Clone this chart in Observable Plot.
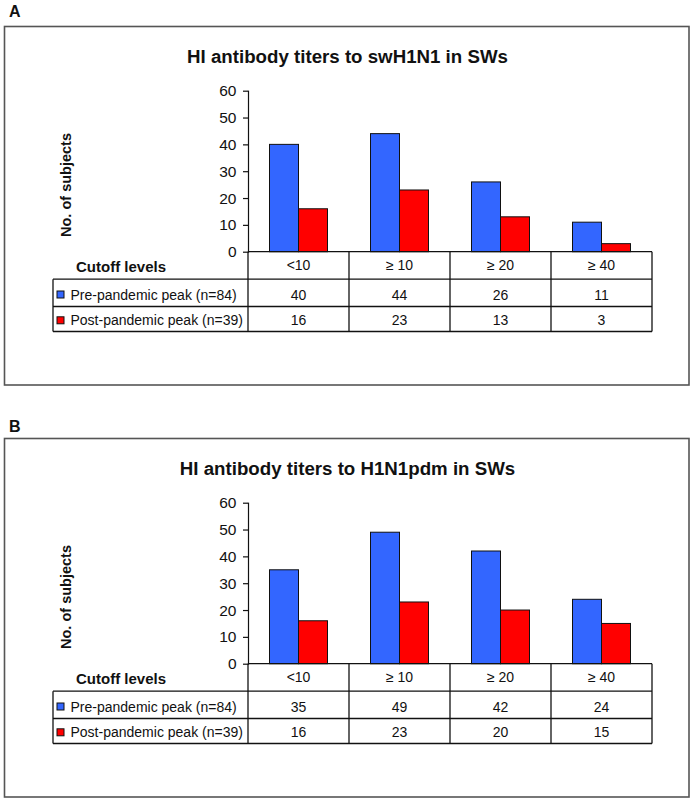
<!DOCTYPE html>
<html>
<head>
<meta charset="utf-8">
<script src="https://cdn.jsdelivr.net/npm/d3@7"></script>
<script src="https://cdn.jsdelivr.net/npm/@observablehq/plot@0.6"></script>
<style>
  html, body { margin: 0; padding: 0; background: #fff; }
  #root { position: relative; width: 695px; height: 803px; overflow: hidden; background: #fff; }
  .panel { position: absolute; left: 0; width: 695px; }
  .panel svg { display: block; }
</style>
</head>
<body>
<div id="root">
  <div class="panel" id="panelA" style="top:0px"></div>
  <div class="panel" id="panelB" style="top:412px"></div>
</div>
<script>
// ---- data ----
const categories = ["<10", "≥ 10", "≥ 20", "≥ 40"];
const seriesNames = ["Pre-pandemic peak (n=84)", "Post-pandemic peak (n=39)"];
const seriesColors = ["#3366ff", "#ff0000"];
const yTicks = [0, 10, 20, 30, 40, 50, 60];
const yLabel = "No. of subjects";
const tableHeader = "Cutoff levels";

const labelA = "A";
const titleA = "HI antibody titers to swH1N1 in SWs";
const preA = [40, 44, 26, 11];
const postA = [16, 23, 13, 3];

const labelB = "B";
const titleB = "HI antibody titers to H1N1pdm in SWs";
const preB = [35, 49, 42, 24];
const postB = [16, 23, 20, 15];

const FONT = "'Liberation Sans', Arial, Helvetica, sans-serif";

function drawPanel(host, label, title, pre, post, labelBaseline) {
  const W = 695, H = 400;
  const yTop = 90.7, yBottom = 251.7;
  const series = [pre, post];
  const rows = categories.flatMap((c, i) => series.map((s, k) => ({cut: c, series: k, value: s[i]})));

  const chart = Plot.plot({
    width: W,
    height: H,
    marginLeft: 248,
    marginRight: 42.5,
    marginTop: yTop,
    marginBottom: H - yBottom,
    style: {fontFamily: FONT, fontSize: "14px", color: "#111", background: "transparent", overflow: "visible"},
    x: {domain: categories, padding: 0, axis: null},
    y: {domain: [0, 60], axis: null},
    marks: [
      Plot.barY(rows.filter(d => d.series === 0), {
        x: "cut", y: "value", fill: seriesColors[0], stroke: "#111", strokeWidth: 1,
        insetLeft: 21.5, insetRight: 50.5
      }),
      Plot.barY(rows.filter(d => d.series === 1), {
        x: "cut", y: "value", fill: seriesColors[1], stroke: "#111", strokeWidth: 1,
        insetLeft: 50.5, insetRight: 21.5
      }),
      Plot.axisY({ticks: yTicks, tickSize: 5, tickPadding: 7, label: null, stroke: "#111",
        strokeWidth: 1.2, fill: "#111", fontSize: 15.5}),
      Plot.frame({anchor: "left", stroke: "#111", strokeWidth: 1.2})
    ]
  });

  const svg = d3.select(chart);
  const xs = chart.scale("x");
  const ys = chart.scale("y");
  const bw = xs.bandwidth;
  const y0 = ys.apply(0);
  const xStart = xs.apply(categories[0]);
  const xEnd = xs.apply(categories[categories.length - 1]) + bw;
  const tableLeft = 53;
  const r1 = y0 + 27.5, r2 = y0 + 54.8, r3 = y0 + 79.8;

  const g = svg.append("g").attr("font-family", FONT).attr("fill", "#111").attr("text-anchor", "start");

  // outer box
  g.append("rect").attr("x", 4.5).attr("y", 26.5).attr("width", 684.5).attr("height", 358.5)
    .attr("fill", "none").attr("stroke", "#555").attr("stroke-width", 1.6);

  // panel label
  g.append("text").attr("x", 9).attr("y", labelBaseline).attr("font-size", 16).attr("font-weight", "bold").text(label);

  // title
  g.append("text").attr("x", 347.5).attr("y", 63).attr("text-anchor", "middle")
    .attr("font-size", 18.7).attr("font-weight", "bold").text(title);

  // y label
  g.append("text").attr("transform", `translate(70.5,185) rotate(-90)`)
    .attr("text-anchor", "middle").attr("font-size", 14.5).attr("font-weight", "bold").text(yLabel);

  // table lines
  const lines = g.append("g").attr("stroke", "#111").attr("stroke-width", 1.3).attr("fill", "none");
  lines.append("line").attr("x1", xStart).attr("x2", xEnd).attr("y1", y0).attr("y2", y0);
  for (const yy of [r1, r2, r3]) {
    lines.append("line").attr("x1", tableLeft).attr("x2", xEnd).attr("y1", yy).attr("y2", yy);
  }
  lines.append("line").attr("x1", tableLeft).attr("x2", tableLeft).attr("y1", r1).attr("y2", r3);
  categories.forEach((c, i) => {
    const xl = xs.apply(c);
    lines.append("line").attr("x1", xl).attr("x2", xl).attr("y1", y0).attr("y2", r3);
  });
  lines.append("line").attr("x1", xEnd).attr("x2", xEnd).attr("y1", y0).attr("y2", r3);

  // header
  g.append("text").attr("x", 76).attr("y", y0 + 20.5).attr("text-anchor", "start")
    .attr("font-size", 15).attr("font-weight", "bold").text(tableHeader);
  categories.forEach(c => {
    g.append("text").attr("x", xs.apply(c) + bw / 2).attr("y", y0 + 18).attr("text-anchor", "middle")
      .attr("font-size", 14).text(c);
  });

  // series rows
  const baselines = [y0 + 47.8, y0 + 73.6];
  series.forEach((s, k) => {
    const by = baselines[k];
    g.append("rect").attr("x", 57).attr("y", by - 8.5).attr("width", 7).attr("height", 7)
      .attr("fill", seriesColors[k]).attr("stroke", "#111").attr("stroke-width", 1);
    g.append("text").attr("x", 70.5).attr("y", by).attr("text-anchor", "start")
      .attr("font-size", 14).text(seriesNames[k]);
    categories.forEach((c, i) => {
      g.append("text").attr("x", xs.apply(c) + bw / 2).attr("y", by).attr("text-anchor", "middle")
        .attr("font-size", 14).text(s[i]);
    });
  });

  host.appendChild(chart);
}

drawPanel(document.getElementById("panelA"), labelA, titleA, preA, postA, 17);
drawPanel(document.getElementById("panelB"), labelB, titleB, preB, postB, 19.5);
</script>
</body>
</html>
